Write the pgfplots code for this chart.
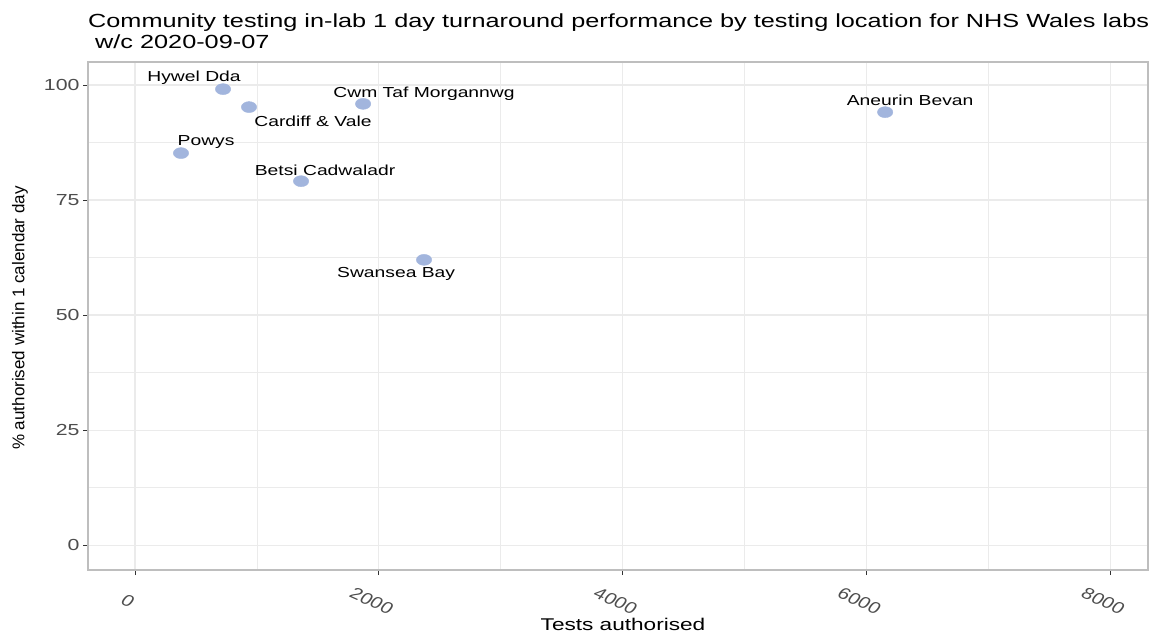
\documentclass[border=0pt]{standalone}
\usepackage{pgfplots}
\pgfplotsset{compat=1.18}
\usepackage{fontspec}
\setmainfont{Liberation Sans}[FakeStretch=1.33]
\newfontfamily\plainfont{Liberation Sans}
\definecolor{ptcol}{HTML}{A2B5DD}
\definecolor{gridmaj}{HTML}{EBEBEB}
\definecolor{bordercol}{HTML}{BEBEBE}
\definecolor{tickcol}{HTML}{333333}
\definecolor{ticklab}{HTML}{4D4D4D}
\newcommand\xt[1]{\scalebox{1.3}[1]{\rotatebox{-30}{\plainfont\fontsize{16}{16}\selectfont\color{ticklab}#1}}}
\begin{document}
\begin{tikzpicture}[x=1pt,y=1pt]
\useasboundingbox (0,0) rectangle (1161,635);
\begin{axis}[
  at={(88pt,65pt)}, anchor=south west,
  scale only axis, width=1060pt, height=508pt,
  xmin=-386, xmax=8310, ymin=-5.4, ymax=105,
  axis line style={bordercol, line width=1.4pt},
  xtick={0,2000,4000,6000,8000},
  xticklabels={\xt{0},\xt{2000},\xt{4000},\xt{6000},\xt{8000}},
  minor xtick={1000,3000,5000,7000},
  ytick={0,25,50,75,100},
  minor ytick={12.5,37.5,62.5,87.5},
  grid=both,
  major grid style={gridmaj, line width=1.2pt},
  minor grid style={gridmaj, line width=0.7pt},
  tick align=outside, major tick length=5pt, minor tick length=0pt,
  every tick/.style={tickcol, line width=1pt},
  xtick pos=bottom, ytick pos=left,
  yticklabel style={font=\fontsize{16}{16}\selectfont, text=ticklab},
  /pgf/number format/assume math mode=true,
  xticklabel style={anchor=center, yshift=-26pt, xshift=-7pt},
  clip=false,
]
\addplot[only marks, mark=*, mark size=5.5pt, mark options={xscale=1.4, fill=ptcol, draw=ptcol}] coordinates {
  (722,99.1) (935,95.2) (1871,95.9) (377,85.2) (1362,79.1) (2371,62.0) (6154,94.1)
};
\begin{scope}[every node/.style={font=\fontsize{14.5}{14.5}\selectfont, inner sep=0pt, anchor=center}]
\node at (axis cs:484,101.5) {Hywel Dda};
\node at (axis cs:1460,92.0) {Cardiff \& Vale};
\node at (axis cs:2371,98.0) {Cwm Taf Morgannwg};
\node at (axis cs:583,87.6) {Powys};
\node at (axis cs:1559,81.5) {Betsi Cadwaladr};
\node at (axis cs:2142,58.9) {Swansea Bay};
\node at (axis cs:6359,96.7) {Aneurin Bevan};
\end{scope}
\end{axis}
\node[anchor=base west, inner sep=0pt, align=left, font=\fontsize{19}{21}\selectfont] at (88,586) {Community testing in-lab 1 day turnaround performance by testing location for NHS Wales labs\\\ w/c 2020-09-07};
\node[inner sep=0pt, font=\fontsize{17}{17}\selectfont] at (623,11) {Tests authorised};
\node[inner sep=0pt, rotate=90, font=\plainfont\fontsize{17}{17}\selectfont] at (20,317) {\% authorised within 1 calendar day};
\end{tikzpicture}
\end{document}
